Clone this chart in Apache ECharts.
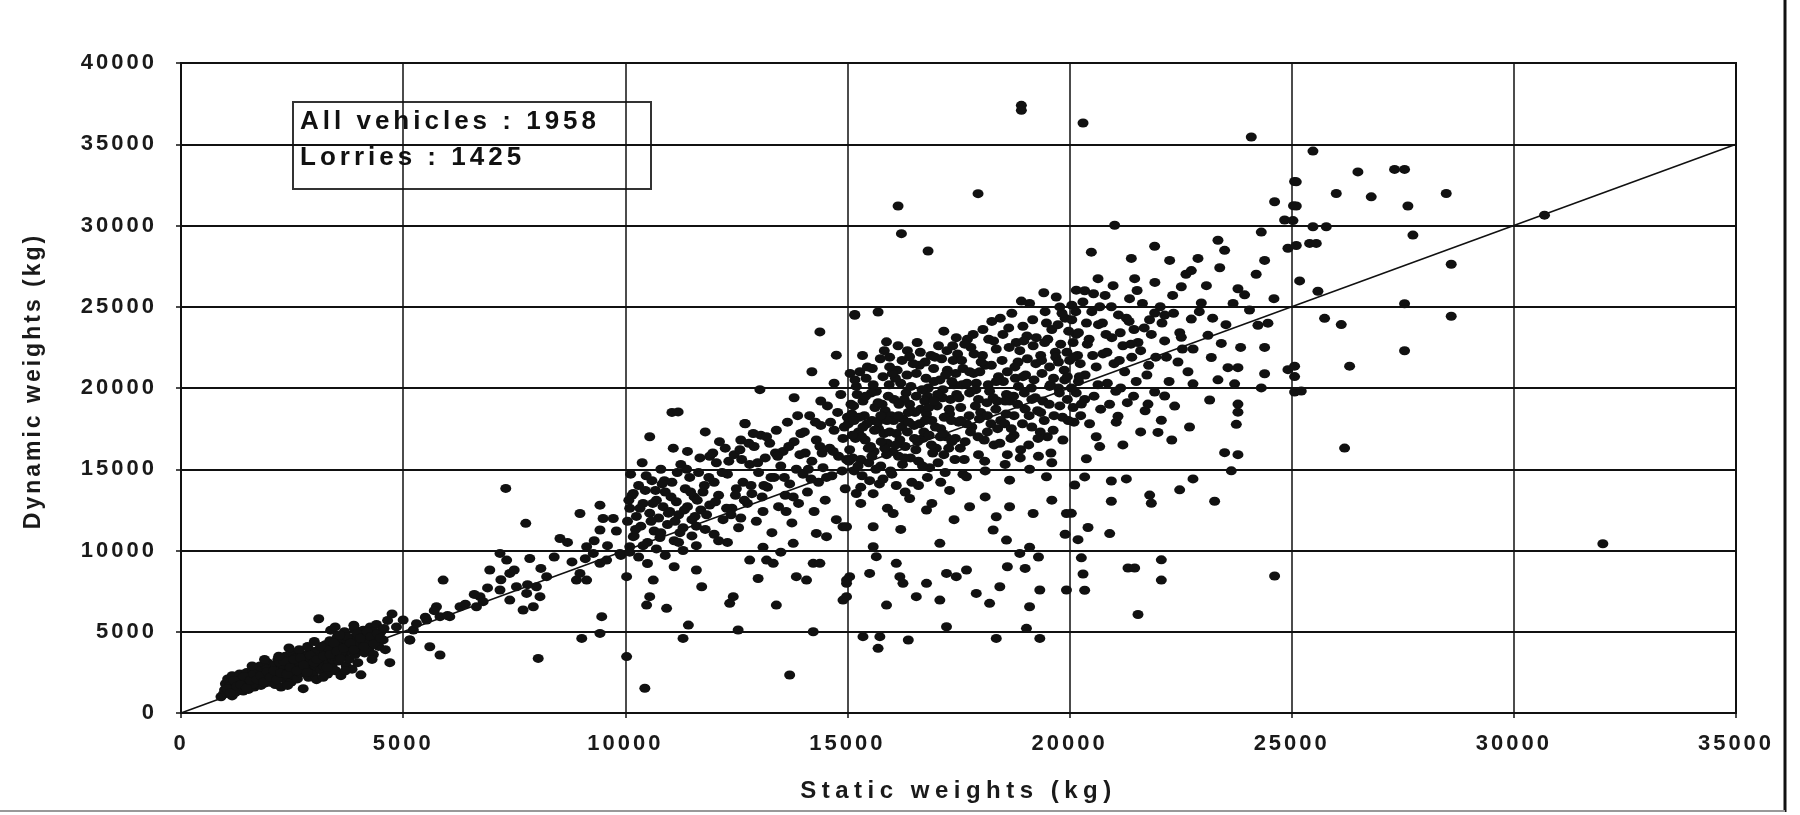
<!DOCTYPE html>
<html>
<head>
<meta charset="utf-8">
<script src="https://cdn.jsdelivr.net/npm/echarts@6/dist/echarts.min.js"></script>
<style>
html,body{margin:0;padding:0;background:#fff;}
#chart{width:1800px;height:815px;}
</style>
</head>
<body>
<div id="chart"></div>
<script>
// Axis ticks
const xTicks = [0, 5000, 10000, 15000, 20000, 25000, 30000, 35000];
const yTicks = [0, 5000, 10000, 15000, 20000, 25000, 30000, 35000, 40000];
const xTitle = 'Static weights (kg)';
const yTitle = 'Dynamic weights (kg)';
const noteLines = ['All vehicles : 1958', 'Lorries : 1425'];
// reference line: dynamic = static
const equalityLine = [[0, 0], [35000, 35000]];

// [static kg, dynamic kg]
const lowCluster = [
[900,1000],[950,1150],[980,1420],[1000,1800],[1020,1250],[1050,2100],[1080,1600],[1100,1350],[1120,1900],[1150,2300],[1150,1050],[1170,1500],[1200,1700],[1220,1250],[1250,2050],[1270,1450],[1300,1800],[1320,2400],[1350,1550],[1380,2150],[1400,1350],[1420,1900],[1450,1650],[1480,2500],[1500,2000],[1520,1450],[1550,1750],[1570,2250],[1600,1900],[1620,2700],[1650,1600],[1680,2100],[1700,2400],[1720,1800],[1750,2000],[1780,2900],[1800,1700],[1820,2300],[1850,2600],[1870,2050],[1900,1850],[1920,2450],[1950,3100],[1980,2200],[2000,1900],[2020,2700],[2050,2350],[2080,2050],[2100,2950],[2120,1750],[2150,2500],[2180,3300],[2200,2200],[2230,2750],[2250,1600],[2270,3000],[2300,2400],[2320,2100],[2350,3500],[2380,2650],[2400,2250],[2420,2900],[2450,3200],[2480,1900],[2500,2600],[2520,3700],[2550,2300],[2580,2850],[2600,3400],[2620,2100],[2650,2750],[2680,3000],[2700,2450],[2720,3600],[2750,1500],[2780,3150],[2800,2600],[2820,2900],[2850,3300],[2870,2200],[2900,3800],[2920,2750],[2950,3050],[2980,2400],[3000,3400],[3020,2900],[3050,2050],[3080,3600],[3100,5800],[3120,3150],[3150,2650],[3170,3900],[3200,3300],[3220,2850],[3250,4200],[3270,3500],[3300,2400],[3320,3100],[3350,4450],[3380,3700],[3400,2900],[3420,3300],[3450,4000],[3480,2600],[3500,3550],[3520,4700],[3550,3200],[3580,3900],[3600,2300],[3620,4300],[3650,3450],[3680,5000],[3700,3750],[3720,2900],[3750,4150],[3780,3300],[3800,4600],[3820,3800],[3850,2700],[3870,4200],[3900,5200],[3920,3600],[3950,4400],[3980,3100],[4000,4800],[4020,3950],[4050,2350],[4080,4500],[4100,5100],[4130,3700],[4150,4200],[4200,4650],[4230,3900],[4260,5300],[4300,4350],[4330,3600],[4370,4800],[4400,5450],[4450,4100],[4500,5000],[4550,4500],[4600,3900],[4700,3100],[4750,6100],[4650,5700],[4850,5300],[5150,4500],
[1060,1300],[1130,1700],[1230,1550],[1330,2000],[1430,1750],[1530,2200],[1630,1800],[1730,2600],[1830,2100],[1930,2700],[2030,2450],[2130,2200],[2230,3100],[2330,2700],[2430,2500],[2530,2900],[2630,3200],[2730,2700],[2830,3500],[2930,3300],[3030,3800],[3130,3400],[3230,3700],[3330,3900],[3430,3500],[3530,4100],[3630,3800],[3730,4500],[3830,4100],[3930,4700],[4030,4300],[4130,4900],[4230,4500],[4330,5000],[2430,4000],[2660,3900],[1880,3300],
[1040,1500],[1110,1250],[1190,2000],[1260,1650],[1340,1750],[1410,2250],[1470,1550],[1560,2000],[1640,2400],[1710,2050],[1790,2300],[1860,1900],[1940,2550],[2010,2200],[2090,2600],[2160,2050],[2240,2450],[2310,3200],[2390,2400],[2460,2800],[2540,3300],[2610,2600],[2690,3400],[2760,2950],[2840,2500],[2910,3550],[2990,3100],[3060,3300],[3140,4100],[3210,3500],[3290,2800],[3360,3600],[3440,4300],[3510,3800],[3590,3350],[3660,4000],[3740,4700],[3810,4300],[3890,3900],[3960,4900],[4040,4600],[4110,4100],[4190,5000],[4270,4700],[4340,4250],[4420,4900],[4490,4600],[4570,5200],[3370,5100],[3470,5300],[3570,4800],[3890,5400],[2850,4100],[3000,4400],[2200,3500],[1600,2900],[2400,1700],[3200,2200],[3700,2600],[4300,3300]
];

const midRange = [
[7310,13820],[7760,11670],[8980,12280],[9430,12790],[9500,11970],[9730,11970],[9430,11260],[8530,10740],[7180,9820],[7330,9410],[7850,9510],[6950,8800],[7400,8590],[5900,8180],[8230,8390],[9130,10230],[9280,9820],[9430,9210],[8900,8180],[9130,8180],[8980,8590],[7180,7570],[7550,7770],[7780,7360],[8000,7770],[8080,7160],[7400,6950],[7700,6340],[7930,6540],[6730,7160],[6650,6540],[6280,6540],[6800,6850],[5750,6540],[5830,5930],[6050,5930],[5530,5720],[5000,5720],[5230,5110],[5150,4490],[5600,4080],[5830,3570],[8040,3360],[9020,4590],[9430,4900],[9470,5930],[10030,3470],[10100,10230],[10180,10850],[10180,13510],[10030,8390],[9880,9820],[9580,9410],
[5300,5500],[5500,5900],[5700,6300],[6000,6000],[6400,6700],[6600,7300],[6900,7700],[7200,8200],[7500,8800],[7800,7900],[8100,8900],[8400,9600],[8700,10500],[8800,9300],[9100,9500],[9300,10600],[9600,10300],[9800,11200],[9900,9700]
];

const band10to15 = [
[10050,11800],[10100,12600],[10150,13400],[10200,10900],[10250,12100],[10300,14000],[10350,11500],[10400,12900],[10450,13700],[10500,10500],[10550,12300],[10600,14300],[10650,11200],[10700,13100],[10750,12000],[10800,15000],[10850,12700],[10900,13600],[10950,11600],[11000,12400],[11050,14200],[11100,10600],[11150,13000],[11200,12200],[11250,15300],[11300,11400],[11350,13800],[11400,12700],[11450,14500],[11500,11900],[11550,13300],[11600,10300],[11650,14800],[11700,12500],[10100,9900],[10300,9600],[10500,9200],[10700,10100],[10900,9700],[11100,9000],[11300,10000],[11500,10900],[11050,18500],[10550,17000],[11080,16300],[11400,16100],[11800,17300],[11900,15800],[11750,13600],
[11800,11300],[11900,12800],[12000,14200],[12050,15400],[12100,13400],[12200,11900],[12250,16300],[12300,14700],[12400,12600],[12450,15900],[12500,13800],[12550,11400],[12600,16800],[12650,14200],[12700,17800],[12750,12900],[12800,15300],[12850,13500],[12900,16400],[12950,11800],[13000,14800],[13050,17100],[13100,12400],[13150,15700],[13200,13900],[13250,16600],[13300,11100],[13350,14500],[13400,17400],[13450,12700],[13500,15200],[13550,16100],[13600,13400],[13650,17900],[13700,14100],[13750,11700],[13800,16700],[13850,15000],[13900,12900],[13950,17200],[14000,14700],[14050,16000],[14100,13600],[14150,18300],[14200,15500],[14250,12400],[14300,16800],[14350,14200],[14400,17700],[14450,15100],[14500,13100],[14550,18900],[14600,16300],[14650,14600],[14700,17400],[14750,11900],[14800,15800],[14850,19600],[14900,16900],[14950,13800],[15000,18200],[12690,17815],[13030,19900],[11190,18530],[12000,11000],[12300,10500],[13100,10200],[13500,9900],
[10120,14700],[10380,15400],[10620,12900],[10880,14300],[11120,11800],[11380,15000],[11620,13100],[11880,14500],[12120,16700],[12380,12200],[12620,15600],[12880,17200],[13120,14000],[13380,16000],[13620,12400],[13880,18300],[14120,15000],[14380,16400],[14620,17900],[14880,14900],[14400,19200],[14700,20300],[14200,21000],[13800,19400],
[10080,13100],[10230,11300],[10330,12600],[10470,14600],[10580,11800],[10680,13700],[10780,10800],[10830,14100],[10970,12300],[11030,13300],[11170,14800],[11230,11100],[11330,12500],[11470,13600],[11570,12100],[11680,15700],[11780,14000],[11830,12200],[11970,16000],[12030,13000],[12180,14800],[12280,12600],[12330,15500],[12480,13400],[12580,16200],[12680,13100],[12780,16600],[12830,14000],[12980,15400],[13080,13300],[13180,17000],[13280,14500],[13430,15800],[13580,14500],[13680,16400],[13780,13300],[13930,15900],[14030,17300],[14180,14400],[14280,17900],[14430,16000],[14530,14500],[14680,16100],[14780,18500],[14930,17600],[14980,15600],[10400,10300],[10800,11100],[11200,10500],[11600,11500],[12100,10600],[12600,12000]
];

const cluster15to175 = [
[15050,16200],[15100,18400],[15150,14900],[15200,20100],[15250,17300],[15300,15600],[15350,19200],[15400,16800],[15450,21300],[15500,14300],[15550,18000],[15600,16100],[15650,19800],[15700,17500],[15750,15200],[15800,20700],[15850,18600],[15900,16600],[15950,21900],[16000,14700],[16050,19300],[16100,17200],[16150,15800],[16200,20300],[16250,18100],[16300,16400],[16350,22300],[16400,19000],[16450,14200],[16500,17700],[16550,20900],[16600,15500],[16650,18700],[16700,16900],[16750,21600],[16800,19500],[16850,15100],[16900,18000],[16950,20400],[17000,16300],[17050,22600],[17100,17500],[17150,19900],[17200,14800],[17250,21100],[17300,18400],[17350,16700],[17400,20200],[17450,23100],[17500,17900],
[15020,17800],[15120,15700],[15220,19600],[15320,17000],[15420,20600],[15520,16400],[15620,18800],[15720,14100],[15820,17200],[15920,19500],[16020,16100],[16120,21100],[16220,17600],[16320,19700],[16420,15700],[16520,18500],[16620,21400],[16720,17300],[16820,20000],[16920,16000],[17020,18900],[17120,21800],[17220,17000],[17320,19300],[17420,15600],[17480,22100],
[15080,19000],[15180,16900],[15280,21000],[15380,18300],[15480,15400],[15580,20200],[15680,17900],[15780,19000],[15880,15900],[15980,18300],[16080,20600],[16180,16800],[16280,19300],[16380,17900],[16480,21500],[16580,16700],[16680,19900],[16780,18400],[16880,22000],[16980,17600],[17080,20500],[17180,18200],[17280,16300],[17380,21700],[17460,19600],
[15060,20900],[15140,18900],[15240,15200],[15340,22000],[15440,17800],[15540,19700],[15640,15000],[15740,21800],[15840,16300],[15940,20200],[16040,18000],[16140,22600],[16240,15300],[16340,20800],[16440,18600],[16540,16200],[16640,22200],[16740,19200],[16840,17100],[16940,21200],[17040,15400],[17140,19400],[17240,22300],[17340,18000],[17440,20900],
[15030,15500],[15110,17100],[15170,20500],[15260,18200],[15330,14600],[15410,19500],[15470,16300],[15560,21200],[15610,17400],[15690,19100],[15760,16700],[15830,22300],[15890,18000],[15970,14900],[16010,20900],[16090,16500],[16160,19000],[16230,21700],[16290,15700],[16370,18500],[16430,20100],[16510,16900],[16570,22800],[16630,17800],[16690,15200],[16770,20600],[16830,18800],[16890,16500],[16970,21900],[17030,19600],[17090,17000],[17170,15900],[17210,20800],[17290,18700],[17370,22600],[17430,16900],
[15150,18000],[15350,17600],[15550,15800],[15750,18300],[15950,17300],[16150,18300],[16350,17300],[16550,19500],[16750,18000],[16950,19200],[17150,17200],[17350,20400],[16100,14000],[16600,14000],[17100,14200],[15300,13900],[15800,14400],[16300,13600],[16800,14500],
[15690,24680],[15165,24530],[17170,23500],[15880,22840],[15950,21300],[16400,21920]
];

const cluster175to20 = [
[17550,18800],[17600,21200],[17650,16700],[17700,23000],[17750,19700],[17800,17600],[17850,22100],[17900,20300],[17950,15900],[18000,18500],[18050,23600],[18100,21400],[18150,17300],[18200,19800],[18250,24100],[18300,16500],[18350,22400],[18400,20700],[18450,18000],[18500,23300],[18550,15300],[18600,21000],[18650,19200],[18700,24600],[18750,17100],[18800,22800],[18850,20100],[18900,16200],[18950,23800],[19000,18700],[19050,21800],[19100,25200],[19150,17600],[19200,20500],[19250,23100],[19300,15800],[19350,22000],[19400,19200],[19450,24700],[19500,17000],[19550,21300],[19600,23600],[19650,18300],[19700,25600],[19750,20000],[19800,22700],[19850,16800],[19900,24300],[19950,19300],[20000,21700],[20050,25100],[20100,17900],[20150,23300],[20200,20400],
[17580,20200],[17680,17800],[17780,22500],[17880,18900],[17980,21000],[18080,16800],[18180,23000],[18280,19400],[18380,17500],[18480,21700],[18580,19600],[18680,16900],[18780,20600],[18880,22300],[18980,19700],[19080,16500],[19180,22600],[19280,18600],[19380,20900],[19480,24000],[19580,16000],[19680,22200],[19780,18900],[19880,21100],[19980,23500],[20080,18800],[20180,22000],
[17540,16300],[17640,22700],[17740,18300],[17840,20900],[17940,17000],[18040,22000],[18140,19100],[18240,21400],[18340,18700],[18440,24300],[18540,17800],[18640,22500],[18740,19500],[18840,21600],[18940,17800],[19040,23200],[19140,20000],[19240,21500],[19340,17300],[19440,22800],[19540,19000],[19640,20600],[19740,23900],[19840,18200],[19940,22200],
[17510,19400],[17570,21700],[17630,15600],[17690,20300],[17770,17300],[17830,23300],[17890,19900],[17970,18100],[18010,21600],[18090,15500],[18170,20200],[18230,17800],[18290,22900],[18370,19200],[18430,16600],[18510,20400],[18570,18400],[18630,23700],[18690,17500],[18770,21300],[18830,19000],[18890,15700],[18970,22900],[19010,20800],[19090,18300],[19170,24200],[19230,19400],[19290,16900],[19370,21700],[19430,18000],[19510,23000],[19570,20200],[19630,17400],[19690,21900],[19770,19700],[19830,24600],[19890,20500],[19970,18000],
[17550,18000],[17750,21000],[17950,19300],[18150,18300],[18350,20400],[18550,19200],[18750,18300],[18950,20700],[19150,19300],[19350,18500],[19550,20100],[19750,21600],[19950,20700],[17600,14700],[18100,14900],[18600,15900],[19100,15000],[19600,15400],
[19420,25860],[18915,25350],[19780,24990],[20150,26020]
];

const cluster20to25 = [
[20050,24200],[20100,21900],[20150,19700],[20200,23400],[20250,18300],[20300,25300],[20350,20800],[20400,22700],[20450,17800],[20500,24700],[20550,19500],[20600,21300],[20650,23900],[20700,18700],[20750,22100],[20800,25700],[20850,20300],[20900,19000],[20950,23100],[21000,21500],[21050,17900],[21100,24500],[21150,20000],[21200,22600],[21300,19100],[21350,25500],[21400,21900],[21450,23600],[21500,20400],[21600,22300],[21700,18600],[21800,24200],
[20040,20000],[20140,24700],[20240,21500],[20340,19300],[20440,23000],[20540,25800],[20640,20200],[20740,24000],[20840,22200],[20940,25000],[21040,19800],[21140,23400],[21240,21000],[21340,24100],[21440,19500],[21540,22800],[21640,25200],[21740,20800],[21840,23300],[21940,21900],[22040,25000],[22140,22900],[22240,20400],[22340,24600],[22440,21600],[22540,22400],
[20080,22800],[20220,20700],[20380,24000],[20520,22000],[20680,25000],[20820,23300],[20980,26300],[21120,21700],[21280,24300],[21380,22700],[21520,26000],[21680,23700],[21780,21400],[21920,26500],[22080,24000],[22180,21900],[22320,25700],[22480,23400],[22620,27000],[22780,22400],[22920,24700],[23080,26300],[23220,24300],[23380,27400],[23520,23900],[23680,25200],[23850,22500],[24050,24800],[24200,27000],[24600,25500],[20600,17000],[21200,16500],[21600,17300],[22300,16800],[22700,17600],
[21015,30016],[20490,28360],[21915,28721],[22253,27850],[21390,27974],[23340,29095],[23490,28472],[22890,27974],[22740,27227],[22515,26231],[23790,26107],[23940,25733],[20640,26729],[20340,25982],[21465,26729],[21915,24613],[22140,24488],[22740,24239],[22965,25235],[22515,23118],[23115,23242],[23415,22744],[24240,23865],[24465,23990],[24390,22496],[23190,21874],[22665,21002],[23565,21251],[23790,21251],[23340,20504],[22778,20255],[23715,20255],[24390,20878],[24915,21127],[25065,19757],[24315,20006],[21915,19757],[22140,19508],[21765,19010],[22365,18886],[23153,19259],[23790,19010],[23790,18512],[23753,17765],[22065,18014],[21990,17267],[21090,18263],[20265,19010],[20678,16396],[20378,15649],[23490,16022],[23790,15898],[23640,14902],[20340,14528],[20940,14279],[21278,14404],[22778,14404],[22478,13731],[21803,13408],[21840,12910],[20940,13034],[23265,13034],[20115,14030],[20040,12287],[20415,11415],[20903,11042],[20190,10668],[22065,9424],[20265,9548],[20303,8552],[20340,7556],[21315,8925],[21465,8925],[22065,8178],[21540,6062],[24615,8428],
[25065,32705],[24615,31460],[25040,31212],[24840,30340],[24315,29593],[24390,27850],[24915,28597]
];

const sparseBelow = [
[12800,9410],[12990,8280],[11600,8800],[11720,7770],[10630,8180],[10550,7160],[10480,6640],[10930,6440],[12430,7160],[12350,6750],[13400,6640],[13850,8390],[14080,8180],[14230,9210],[14380,9210],[14980,7980],[14900,6950],[15050,8390],[11420,5410],[11300,4590],[12540,5110],[14230,5000],[10440,1520],[13700,2340],[13180,9410],[13330,9210],[13780,10440],[14300,11050],[14530,10850],[14900,11460],[14380,23450],[14750,22020],
[15200,13510],[15580,13500],[16030,12280],[16780,12490],[14980,11460],[15580,11460],[15580,10230],[17080,10440],[15650,9620],[16100,9210],[16180,8390],[16250,7980],[15500,8590],[14980,8180],[14980,7160],[16780,7980],[16550,7160],[17080,6950],[17230,8590],[17450,8390],[15880,6640],[17230,5310],[15350,4700],[15730,4700],[15690,3980],[16370,4490],[15300,12900],[15900,12600],[16400,13200],[16900,12900],[17300,13700],[17400,11900],[16200,11300],
[19480,14540],[17680,14540],[18650,14330],[17750,12690],[18350,12080],[18650,12690],[19180,12280],[19930,12280],[18280,11260],[18580,10640],[18880,9820],[19100,10200],[17680,8800],[17900,7360],[18200,6750],[18430,7770],[19100,6540],[19330,7570],[18350,4590],[19030,5210],[19330,4590],[19930,7570],[19000,8900],[18600,9000],[19300,9600],[19900,11000],[18100,13300],[19600,13100]
];

const upperOutliers = [
[18915,37393],[18915,37085],[20303,36306],[24090,35444],[17940,31960],[16140,31202],[16215,29500],[16815,28434],[15165,24478]
];

const farRight = [
[25478,34579],[26490,33299],[27315,33453],[27540,33453],[25103,32685],[26003,31968],[26790,31763],[27615,31200],[28478,31968],[25103,31200],[25028,30304],[25478,29920],[25778,29920],[25403,28896],[25553,28896],[25103,28768],[27728,29408],[30690,30637],[28590,27616],[25178,26592],[25590,25952],[27540,25184],[25740,24288],[26115,23904],[28590,24416],[27540,22291],[26303,21344],[25065,21344],[25065,20704],[25215,19808],[26190,16301],[32003,10413]
];

const points = [].concat(lowCluster, midRange, band10to15, cluster15to175, cluster175to20, cluster20to25, sparseBelow, upperOutliers, farRight);

// the scanned original has widely spaced lettering: emulate with canvas letterSpacing per font size
const spacingBySize = { '22': '3px', '26': '4px', '24': '5.5px', '23': '3px' };
(function () {
  const proto = CanvasRenderingContext2D.prototype;
  if (!('letterSpacing' in proto)) return;
  const origFill = proto.fillText;
  proto.fillText = function (t, x, y, w) {
    const m = /(\d+)px/.exec(this.font || '');
    const prev = this.letterSpacing;
    if (m && spacingBySize[m[1]]) this.letterSpacing = spacingBySize[m[1]];
    const r = w === undefined ? origFill.call(this, t, x, y) : origFill.call(this, t, x, y, w);
    this.letterSpacing = prev;
    return r;
  };
})();

const chart = echarts.init(document.getElementById('chart'));
const FONT = '"Liberation Sans", Arial, sans-serif';
chart.setOption({
  animation: false,
  backgroundColor: '#ffffff',
  grid: { left: 181, right: 64, top: 63, bottom: 102, show: true, borderColor: '#111', borderWidth: 2, backgroundColor: 'transparent' },
  xAxis: {
    type: 'value', min: xTicks[0], max: xTicks[xTicks.length - 1], interval: 5000,
    name: xTitle, nameLocation: 'middle', nameGap: 66,
    nameTextStyle: { fontFamily: FONT, fontWeight: 'bold', fontSize: 24, color: '#1a1a1a' },
    axisLine: { show: true, lineStyle: { color: '#111', width: 2 } },
    axisTick: { show: true, length: 5, lineStyle: { color: '#111', width: 1.5 } },
    axisLabel: { margin: 20, fontFamily: FONT, fontWeight: 'bold', fontSize: 22, color: '#1a1a1a', formatter: v => String(v) },
    splitLine: { show: true, lineStyle: { color: '#111', width: 1.5 } }
  },
  yAxis: {
    type: 'value', min: yTicks[0], max: yTicks[yTicks.length - 1], interval: 5000,
    name: yTitle, nameLocation: 'middle', nameGap: 136, nameRotate: 90,
    nameTextStyle: { fontFamily: FONT, fontWeight: 'bold', fontSize: 23, color: '#1a1a1a', padding: [0, 0, 0, 14] },
    axisLine: { show: true, lineStyle: { color: '#111', width: 2 } },
    axisTick: { show: true, length: 5, lineStyle: { color: '#111', width: 1.5 } },
    axisLabel: { margin: 24, fontFamily: FONT, fontWeight: 'bold', fontSize: 22, color: '#1a1a1a', formatter: v => String(v) },
    splitLine: { show: true, lineStyle: { color: '#111', width: 2.2 } }
  },
  series: [
    {
      type: 'line', data: equalityLine, symbol: 'none', silent: true,
      lineStyle: { color: '#111', width: 1.6 }, z: 3
    },
    {
      type: 'scatter', data: points, symbol: 'circle', symbolSize: [11, 9],
      itemStyle: { color: '#111', opacity: 1 }, z: 4
    }
  ],
  graphic: [
    {
      type: 'group', left: 292, top: 101, z: 10,
      children: [
        { type: 'rect', shape: { x: 0, y: 0, width: 358, height: 87 }, style: { fill: '#fff', stroke: '#333', lineWidth: 2 } },
        { type: 'text', x: 7, y: 20, style: { text: noteLines[0], font: 'bold 26px ' + FONT, fill: '#111', textVerticalAlign: 'middle' } },
        { type: 'text', x: 7, y: 56, style: { text: noteLines[1], font: 'bold 26px ' + FONT, fill: '#111', textVerticalAlign: 'middle' } }
      ]
    },
    { type: 'line', shape: { x1: 1785, y1: 0, x2: 1785, y2: 812 }, style: { stroke: '#111', lineWidth: 3 } },
    { type: 'line', shape: { x1: 0, y1: 811, x2: 1785, y2: 811 }, style: { stroke: '#999', lineWidth: 2 } }
  ]
});
</script>
</body>
</html>
